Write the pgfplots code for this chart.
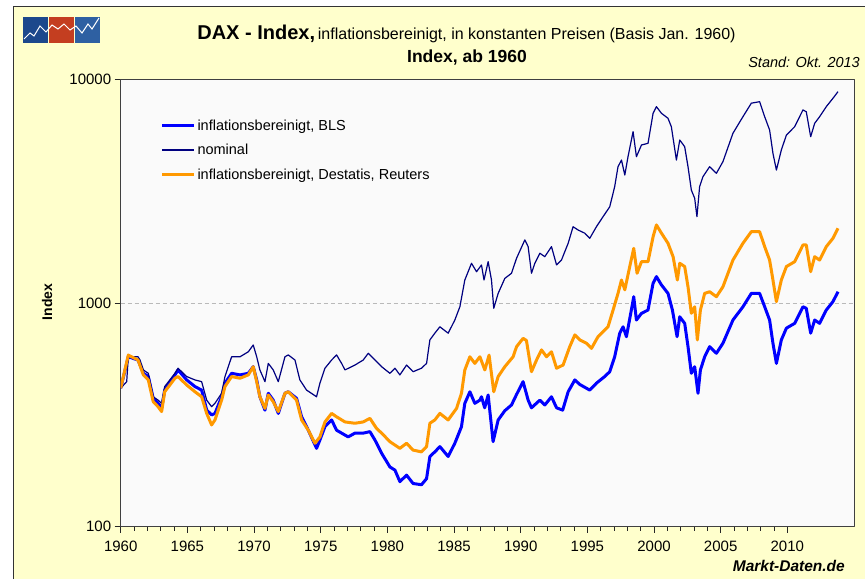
\documentclass[border=0pt]{standalone}
\usepackage{pgfplots}
\pgfplotsset{compat=1.18}
\usepackage{fontspec}
\setmainfont{Liberation Sans}
\definecolor{bgyellow}{RGB}{255,255,204}
\definecolor{navyline}{RGB}{0,0,128}
\definecolor{blsblue}{RGB}{0,0,255}
\definecolor{destorange}{RGB}{255,153,0}
\definecolor{logoblue}{RGB}{28,72,140}
\definecolor{logored}{RGB}{196,62,32}
\definecolor{logoblue2}{RGB}{46,96,162}
\newcommand{\fs}[1]{\fontsize{#1}{#1}\selectfont}
\begin{document}
\begin{tikzpicture}[x=1pt,y=1pt]
\path[use as bounding box] (0,0) rectangle (865,579);
\fill[white] (0,0) rectangle (865,579);
\fill[bgyellow] (13,0) rectangle (865,572);
\draw[black!80, line width=1pt] (13,0) -- (13,572) -- (865,572);
% logo
\fill[logoblue] (23,536) rectangle (48,562);
\fill[logored] (49,536) rectangle (74,562);
\fill[logoblue2] (75,536) rectangle (100,562);
\draw[white, line width=1pt] (24,540) -- (30,546) -- (34,543) -- (40,553) -- (46,547) -- (52,554) -- (58,550) -- (64,555) -- (70,549) -- (76,553) -- (82,546) -- (88,555) -- (92,550) -- (99,561);
% titles
\node[anchor=base, inner sep=0] at (466.5,539) {{\fs{20}\bfseries DAX - Index,} {\fs{16}inflationsbereinigt, in konstanten Preisen (Basis Jan. 1960)}};
\node[anchor=base, inner sep=0] at (467,516) {\fs{17.5}\bfseries Index, ab 1960};
\node[anchor=base east, inner sep=0] at (860,511) {\fs{14.5}\itshape Stand: Okt. 2013};
\node[anchor=base east, inner sep=0] at (845,8) {\fs{15.5}\bfseries\itshape Markt-Daten.de};
\node[rotate=90, inner sep=0] at (47,277) {\fs{14}\bfseries Index};
\begin{axis}[
  at={(120.7pt,52.3pt)}, anchor=south west,
  scale only axis, width=733.3pt, height=447.4pt,
  xmin=1960, xmax=2015,
  ymode=log, ymin=100, ymax=10000,
  xtick={1960,1965,...,2010},
  xticklabels={1960,1965,1970,1975,1980,1985,1990,1995,2000,2005,2010},
  minor x tick num=4,
  ytick={100,1000,10000},
  yticklabels={100,1000,10000},
  yminorticks=false,
  tick align=outside,
  major tick length=6pt, minor tick length=4pt,
  tick style={black!85, line width=0.8pt},
  xtick pos=bottom, ytick pos=left,
  axis line style={black!75, line width=1pt},
  axis background/.style={fill=white!98!black},
  ymajorgrids, grid style={dashed, gray!55, line width=0.8pt, dash pattern=on 4pt off 3pt},
  ticklabel style={font=\fs{15}},
  xticklabel style={yshift=-5pt},
  /pgf/number format/assume math mode=true,
  legend style={at={(0.054,0.915)}, anchor=north west, draw=none, fill=none,
    font=\fs{14.5}, row sep=8.5pt, inner sep=0pt},
  legend cell align=left,
  legend image code/.code={\draw[#1] (0pt,0pt) -- (32pt,0pt);},
  line join=round,
]
\addplot[blsblue, line width=3pt] coordinates {
(1960.0,416) (1960.57,575) (1961.3,556) (1961.7,485) (1962.07,469) (1962.44,375)
(1962.8,356) (1963.07,338) (1963.3,408) (1964.07,477) (1964.3,502) (1964.95,453)
(1965.57,423) (1966.07,408) (1966.45,332) (1966.82,316) (1967.07,321) (1967.57,381)
(1967.82,438) (1968.32,485) (1968.95,477) (1969.57,485) (1969.94,519) (1970.2,453)
(1970.44,381) (1970.82,332) (1971.07,395) (1971.44,368) (1971.82,321) (1972.32,395)
(1972.57,401) (1973.19,375) (1973.57,310) (1974.07,270) (1974.69,224) (1974.94,244)
(1975.32,280) (1975.82,300) (1976.19,270) (1976.57,262) (1977.06,252) (1977.57,262)
(1978.19,262) (1978.69,266) (1979.07,244) (1979.57,213) (1980.19,185) (1980.57,179)
(1980.94,159) (1981.44,170) (1981.93,156) (1982.56,154) (1982.94,164) (1983.19,206)
(1983.56,216) (1983.94,228) (1984.56,206) (1985.06,236) (1985.56,280) (1985.81,356)
(1986.19,401) (1986.56,356) (1986.94,368) (1987.06,381) (1987.3,340) (1987.56,388)
(1987.93,240) (1988.31,300) (1988.81,330) (1989.31,350) (1989.69,390) (1990.18,445)
(1990.56,368) (1990.81,340) (1991.44,368) (1991.81,350) (1992.31,381) (1992.69,340)
(1993.15,332) (1993.56,401) (1994.06,453) (1994.44,432) (1995.18,408) (1995.68,438)
(1996.3,469) (1996.68,493) (1997.05,575) (1997.43,733) (1997.68,783) (1997.93,707)
(1998.3,930) (1998.48,1067) (1998.68,839) (1999.06,899) (1999.55,930) (1999.93,1225)
(2000.18,1312) (2000.56,1204) (2001.05,1104) (2001.38,930) (2001.73,707) (2001.93,868)
(2002.3,811) (2002.55,638) (2002.8,485) (2003.05,519) (2003.3,395) (2003.48,502)
(2003.8,575) (2004.17,638) (2004.68,596) (2005.17,661) (2005.92,839) (2006.67,962)
(2007.3,1104) (2007.92,1104) (2008.3,962) (2008.67,839) (2008.92,661) (2009.18,537)
(2009.55,684) (2009.93,772) (2010.55,811) (2011.17,962) (2011.42,947) (2011.75,733)
(2012.05,839) (2012.42,811) (2012.92,930) (2013.42,1014) (2013.8,1123)
};
\addlegendentry{inflationsbereinigt, BLS}
\addplot[navyline, line width=1.2pt] coordinates {
(1960.0,416) (1960.45,445) (1960.57,575) (1961.3,575) (1961.45,556) (1961.7,502)
(1962.07,485) (1962.44,381) (1962.8,368) (1963.07,356) (1963.3,423) (1964.07,485)
(1964.3,511) (1964.95,469) (1965.57,453) (1966.07,445) (1966.45,368) (1966.82,344)
(1967.07,356) (1967.57,395) (1967.82,469) (1968.32,575) (1968.95,575) (1969.57,605)
(1969.94,649) (1970.2,575) (1970.44,502) (1970.82,445) (1971.07,537) (1971.44,502)
(1971.82,445) (1972.32,575) (1972.57,586) (1973.07,556) (1973.44,453) (1973.94,408)
(1974.69,381) (1974.94,438) (1975.32,511) (1975.82,556) (1976.19,586) (1976.57,537)
(1976.82,502) (1977.57,528) (1978.19,556) (1978.57,596) (1979.07,556) (1979.57,519)
(1980.19,485) (1980.57,511) (1980.94,477) (1981.44,528) (1981.93,493) (1982.56,511)
(1982.94,537) (1983.19,684) (1983.56,733) (1983.94,783) (1984.56,733) (1985.06,839)
(1985.44,962) (1985.81,1267) (1986.31,1505) (1986.69,1380) (1987.06,1479) (1987.25,1267)
(1987.56,1530) (1987.81,1267) (1987.98,947) (1988.31,1104) (1988.81,1288) (1989.31,1358)
(1989.69,1585) (1990.31,1914) (1990.56,1786) (1990.81,1358) (1991.06,1505) (1991.44,1669)
(1991.81,1611) (1992.31,1786) (1992.69,1480) (1993.06,1556) (1993.56,1849) (1993.93,2193)
(1994.31,2119) (1994.81,2051) (1995.18,1946) (1995.68,2193) (1996.18,2432) (1996.68,2693)
(1997.05,3311) (1997.3,4066) (1997.56,4355) (1997.81,3733) (1998.05,4508) (1998.43,5834)
(1998.68,4508) (1999.06,5085) (1999.55,5175) (1999.93,7047) (2000.18,7545) (2000.56,7047)
(2001.05,6694) (2001.3,6138) (2001.68,4355) (2001.93,5354) (2002.3,4997) (2002.55,4066)
(2002.8,3199) (2003.05,2938) (2003.22,2432) (2003.42,3311) (2003.67,3670) (2004.17,4066)
(2004.68,3800) (2005.17,4285) (2005.92,5738) (2006.67,6805) (2007.3,7822) (2007.92,7943)
(2008.3,6805) (2008.67,5933) (2008.92,4667) (2009.18,3928) (2009.55,4831) (2009.93,5636)
(2010.55,6138) (2011.17,7295) (2011.42,7161) (2011.75,5538) (2012.05,6357) (2012.42,6805)
(2012.92,7545) (2013.42,8222) (2013.8,8805)
};
\addlegendentry{nominal}
\addplot[destorange, line width=3pt] coordinates {
(1960.0,416) (1960.57,585) (1961.3,556) (1961.7,477) (1962.07,453) (1962.44,362)
(1962.8,344) (1963.07,327) (1963.3,401) (1964.07,461) (1964.3,469) (1964.95,430)
(1965.57,401) (1966.07,381) (1966.45,321) (1966.82,285) (1967.07,300) (1967.57,368)
(1967.82,423) (1968.32,469) (1968.95,461) (1969.57,477) (1969.94,519) (1970.2,445)
(1970.44,381) (1970.82,338) (1971.07,388) (1971.44,362) (1971.82,327) (1972.32,395)
(1972.57,401) (1973.19,368) (1973.57,300) (1974.07,270) (1974.57,236) (1974.94,252)
(1975.32,294) (1975.82,321) (1976.19,310) (1976.82,294) (1977.57,290) (1978.19,294)
(1978.69,305) (1979.19,275) (1979.57,262) (1980.19,240) (1980.94,224) (1981.44,236)
(1981.93,220) (1982.56,216) (1982.94,228) (1983.19,290) (1983.56,300) (1983.94,321)
(1984.56,300) (1985.19,338) (1985.56,395) (1985.81,502) (1986.19,575) (1986.56,537)
(1986.94,575) (1987.31,502) (1987.63,585) (1987.98,401) (1988.31,469) (1988.81,519)
(1989.43,575) (1989.69,638) (1990.18,695) (1990.43,680) (1990.81,493) (1991.19,556)
(1991.56,617) (1991.94,575) (1992.31,605) (1992.69,511) (1993.18,528) (1993.68,638)
(1994.06,720) (1994.44,684) (1994.93,661) (1995.31,627) (1995.8,707) (1996.55,783)
(1996.93,930) (1997.3,1104) (1997.56,1267) (1997.81,1145) (1998.18,1455) (1998.48,1755)
(1998.73,1358) (1999.06,1530) (1999.55,1530) (1999.93,1977) (2000.18,2233) (2000.56,2051)
(2001.05,1849) (2001.43,1611) (2001.75,1267) (2001.93,1505) (2002.3,1455) (2002.55,1182)
(2002.8,899) (2003.05,962) (2003.25,684) (2003.48,930) (2003.8,1104) (2004.17,1123)
(2004.68,1067) (2005.17,1182) (2005.92,1556) (2006.67,1849) (2007.3,2084) (2007.92,2084)
(2008.3,1786) (2008.67,1556) (2008.92,1267) (2009.18,1014) (2009.55,1267) (2009.93,1455)
(2010.55,1530) (2011.17,1817) (2011.42,1817) (2011.75,1380) (2012.05,1611) (2012.42,1556)
(2012.92,1786) (2013.42,1946) (2013.8,2158)
};
\addlegendentry{inflationsbereinigt, Destatis, Reuters}
\end{axis}
\end{tikzpicture}
\end{document}
